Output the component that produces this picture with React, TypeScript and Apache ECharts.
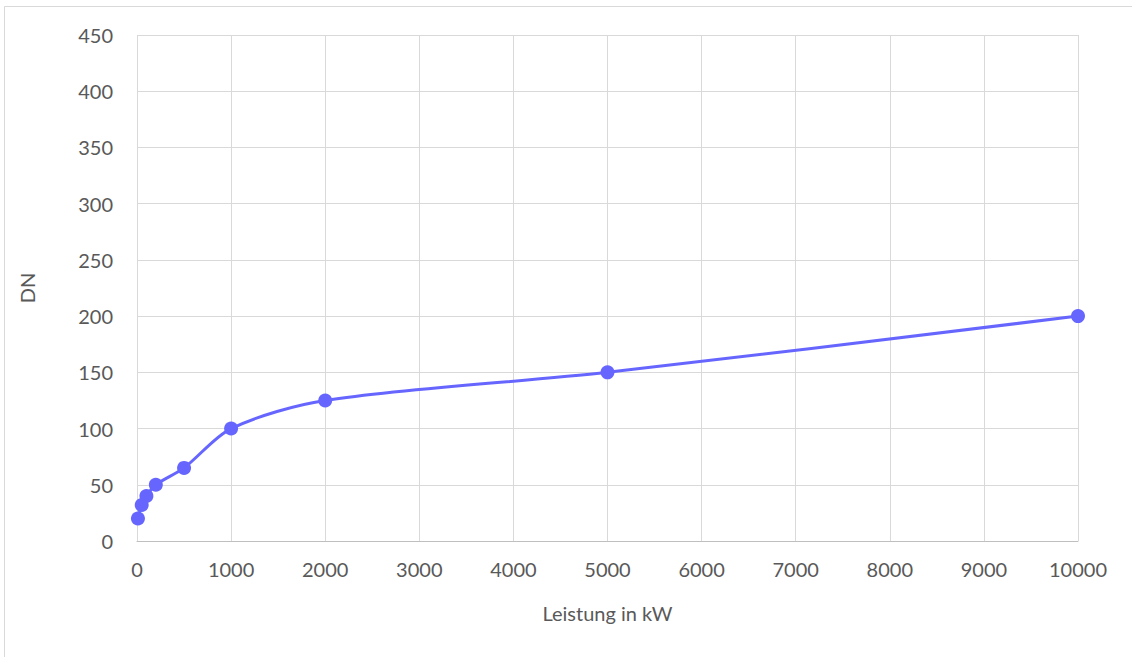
import React, { useEffect, useRef } from "react";
import * as echarts from "echarts";

const leistung = [10, 50, 100, 200, 500, 1000, 2000, 5000, 10000];
const dn = [20, 32, 40, 50, 65, 100, 125, 150, 200];
const xTitle = "Leistung in kW";
const yTitle = "DN";

export default function App() {
  const ref = useRef<HTMLDivElement>(null);
  useEffect(() => {
    document.body.style.margin = "0";
    const chart = echarts.init(ref.current!, null, { renderer: "svg" });
    const font = "Lato, 'Open Sans', sans-serif";
    chart.setOption({
      animation: false,
      backgroundColor: "#ffffff",
      graphic: [
        {
          type: "rect",
          shape: { x: 4.5, y: 6.5, width: 1140, height: 660 },
          style: { fill: "none", stroke: "#d9d9d9", lineWidth: 1 },
        },
      ],
      grid: { left: 137, right: 54, top: 35, bottom: 116 },
      xAxis: {
        type: "value",
        min: 0,
        max: 10000,
        interval: 1000,
        name: xTitle,
        nameLocation: "middle",
        nameGap: 62,
        nameTextStyle: { color: "#595959", fontSize: 20, fontFamily: font },
        axisLine: { show: true, lineStyle: { color: "#bfbfbf", width: 1 } },
        axisTick: { show: false },
        axisLabel: {
          color: "#595959",
          fontSize: 20,
          fontFamily: font,
          margin: 18,
          formatter: (v: number) => String(v),
        },
        splitLine: { show: true, lineStyle: { color: "#d9d9d9", width: 1 } },
      },
      yAxis: {
        type: "value",
        min: 0,
        max: 450,
        interval: 50,
        name: yTitle,
        nameLocation: "middle",
        nameGap: 100,
        nameRotate: 90,
        nameTextStyle: { color: "#595959", fontSize: 20, fontFamily: font },
        axisLine: { show: false },
        axisTick: { show: false },
        axisLabel: { color: "#595959", fontSize: 20, fontFamily: font, margin: 24 },
        splitLine: { show: true, lineStyle: { color: "#d9d9d9", width: 1 } },
      },
      series: [
        {
          type: "line",
          data: leistung.map((x, i) => [x, dn[i]]),
          smooth: 0.3,
          symbol: "circle",
          symbolSize: 14,
          lineStyle: { color: "#6666ff", width: 3 },
          itemStyle: { color: "#6666ff" },
        },
      ],
    });
    return () => chart.dispose();
  }, []);
  return <div ref={ref} style={{ width: 1132, height: 657 }} />;
}
